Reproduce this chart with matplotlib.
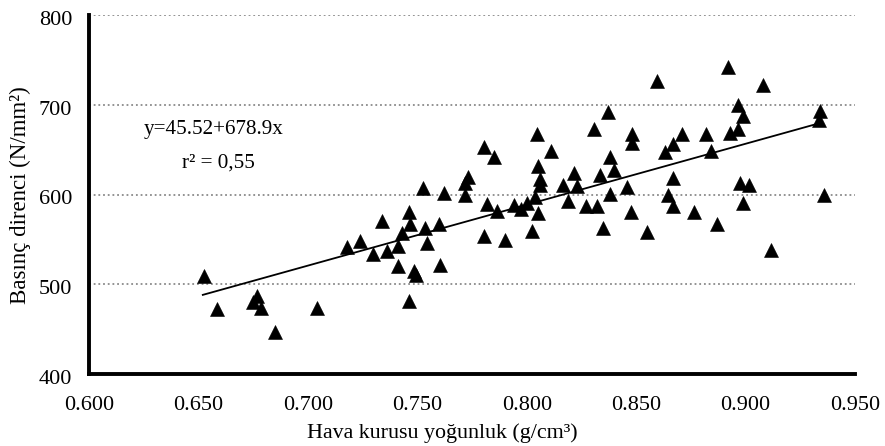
import matplotlib
matplotlib.use("Agg")
import matplotlib.pyplot as plt
import matplotlib.transforms as mtransforms
import numpy as np

# ---- data ----
density = [
    0.6525, 0.6584, 0.6748, 0.6766, 0.6785, 0.6849, 0.704, 0.7177, 0.724, 0.7296,
    0.7337, 0.736, 0.741, 0.741, 0.7428, 0.746, 0.7465, 0.746, 0.7487, 0.7496,
    0.7528, 0.7537, 0.7546, 0.7597, 0.7606, 0.7624, 0.772, 0.772, 0.773, 0.7807,
    0.7807, 0.782, 0.785, 0.7866, 0.790, 0.794, 0.7975, 0.800, 0.8026, 0.8048,
    0.805, 0.806, 0.806, 0.804, 0.805, 0.811, 0.8167, 0.819, 0.8217, 0.823,
    0.827, 0.8308, 0.832, 0.8336, 0.835, 0.837, 0.838, 0.838, 0.840, 0.846,
    0.8477, 0.848, 0.848, 0.855, 0.8596, 0.863, 0.8646, 0.867, 0.867, 0.867,
    0.871, 0.8765, 0.882, 0.884, 0.887, 0.892, 0.893, 0.8966, 0.8966, 0.899,
    0.8975, 0.899, 0.9015, 0.908, 0.9116, 0.9335, 0.934, 0.9358,
]
strength = [
    509, 472, 480, 487, 474, 447, 474, 541, 548, 534,
    570, 537, 543, 520, 557, 481, 567, 581, 515, 510,
    607, 563, 546, 567, 521, 602, 600, 613, 620, 653,
    554, 589, 642, 582, 549, 588, 584, 591, 559, 667,
    632, 617, 611, 597, 579, 648, 611, 593, 624, 609,
    587, 673, 587, 622, 563, 692, 642, 601, 627, 608,
    581, 667, 657, 558, 726, 647, 600, 656, 618, 587,
    667, 580, 667, 649, 567, 742, 669, 700, 673, 687,
    613, 591, 611, 722, 538, 683, 693, 600,
]
fit_intercept = 45.52
fit_slope = 678.9
fit_range = [0.652, 0.933]
x_ticks = [0.600, 0.650, 0.700, 0.750, 0.800, 0.850, 0.900, 0.950]
y_ticks = [400, 500, 600, 700, 800]
x_label = "Hava kurusu yoğunluk (g/cm³)"
y_label = "Basınç direnci (N/mm²)"
eq_text = "y=45.52+678.9x"
r2_text = "r² = 0,55"

# ---- figure ----
W, H = 885, 446
plt.rcParams['font.family'] = ['Liberation Serif', 'DejaVu Serif']
fig = plt.figure(figsize=(W / 100, H / 100), dpi=100)

def px(x, y):
    return x / W, 1 - y / H

x0, x1 = 89.0, 855.0
y_top, y_bot = 15.0, 374.0
ax = fig.add_axes([x0 / W, 1 - y_bot / H, (x1 - x0) / W, (y_bot - y_top) / H])

ax.set_xlim(0.600, 0.950)
ax.set_ylim(400, 800)
ax.set_xticks(x_ticks)
ax.set_xticklabels([f"{t:.3f}" for t in x_ticks])
ax.set_yticks(y_ticks)
ax.tick_params(axis='both', length=0, labelsize=16, colors='black')
ax.tick_params(axis='x', pad=16)
ax.tick_params(axis='y', pad=12)

shift = mtransforms.ScaledTranslation(0, -3 / 100, fig.dpi_scale_trans)
for lab in ax.get_yticklabels():
    lab.set_transform(lab.get_transform() + shift)

for t in y_ticks[1:]:
    ax.axhline(t, color='#8a8a8a', lw=1.3, ls=(0, (1, 1.6)), zorder=1)

for s in ['top', 'right']:
    ax.spines[s].set_visible(False)
for s in ['left', 'bottom']:
    ax.spines[s].set_linewidth(2.8)
    ax.spines[s].set_color('black')

ax.plot(density, strength, ls='none', marker='^', ms=9.5, color='black',
        mec='black', mew=0.4, zorder=3)

fx = np.array(fit_range)
ax.plot(fx, fit_intercept + fit_slope * fx, color='black', lw=1.3, zorder=4)

ax.text(0.6249, 672, eq_text, fontsize=15.2, ha='left', va='center')
ax.text(0.6427, 635.5, r2_text, fontsize=15.2, ha='left', va='center')

fx_, fy_ = px(442, 433)
fig.text(fx_, fy_, x_label, fontsize=15.8, ha='center', va='center')
lx, ly = px(20, 195)
fig.text(lx, ly, y_label, fontsize=16.5, ha='center', va='center', rotation=90)

fig.savefig("out.png", dpi=100)
